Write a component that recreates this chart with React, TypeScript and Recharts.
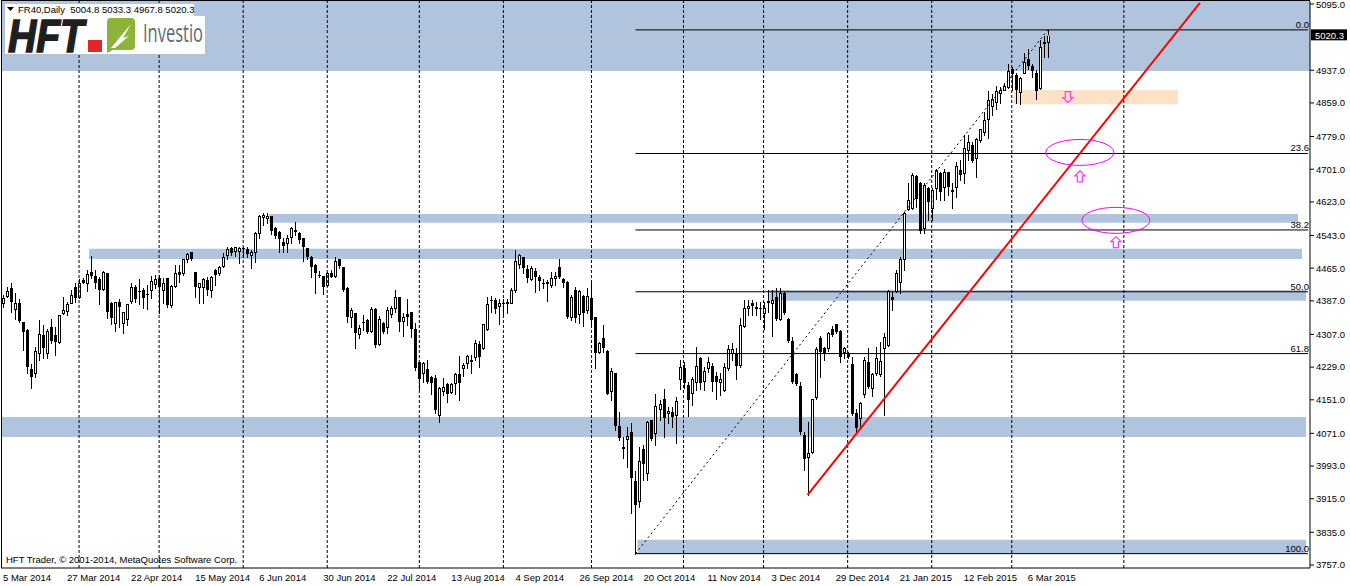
import React from 'react';
import { ComposedChart, Bar, XAxis, YAxis, ReferenceArea, ReferenceLine, ReferenceDot } from 'recharts';

// ---- OHLC values (FR40 daily) ----
const opens = [
  4381, 4399, 4417, 4367, 4381, 4336, 4317, 4224, 4214, 4262, 4306, 4262, 4324, 4306, 4288, 4359, 4363, 4383, 4419, 4397,
  4437, 4429, 4456, 4446, 4439, 4415, 4454, 4382, 4335, 4384, 4333, 4343, 4387, 4421, 4411, 4413, 4403, 4413, 4426, 4441,
  4414, 4441, 4377, 4422, 4457, 4453, 4486, 4503, 4457, 4421, 4421, 4437, 4414, 4461, 4454, 4471, 4496, 4512, 4507, 4507,
  4514, 4511, 4496, 4503, 4550, 4586, 4584, 4589, 4560, 4552, 4528, 4524, 4540, 4556, 4550, 4536, 4512, 4492, 4472, 4449,
  4446, 4425, 4454, 4446, 4486, 4468, 4417, 4349, 4357, 4307, 4337, 4341, 4316, 4367, 4283, 4333, 4324, 4355, 4371, 4397,
  4340, 4355, 4360, 4321, 4240, 4214, 4224, 4205, 4202, 4115, 4173, 4189, 4170, 4192, 4212, 4228, 4238, 4247, 4252, 4284,
  4275, 4319, 4389, 4389, 4375, 4383, 4381, 4383, 4413, 4474, 4491, 4463, 4438, 4458, 4443, 4430, 4429, 4426, 4441, 4467,
  4439, 4433, 4349, 4413, 4356, 4399, 4364, 4393, 4348, 4266, 4298, 4267, 4173, 4214, 4088, 4038, 4057, 4075, 3957, 3910,
  4033, 3977, 4103, 4071, 4128, 4152, 4119, 4123, 4115, 4200, 4226, 4186, 4168, 4194, 4250, 4197, 4226, 4232, 4208, 4193,
  4174, 4228, 4263, 4262, 4233, 4327, 4369, 4383, 4373, 4369, 4359, 4387, 4381, 4397, 4343, 4405, 4343, 4292, 4212, 4184,
  4067, 4015, 4027, 4158, 4298, 4274, 4274, 4321, 4332, 4316, 4266, 4260, 4236, 4119, 4107, 4166, 4240, 4178, 4216, 4212,
  4274, 4282, 4395, 4411, 4433, 4486, 4605, 4608, 4685, 4669, 4560, 4655, 4608, 4655, 4691, 4659, 4695, 4651, 4659, 4699,
  4691, 4747, 4759, 4727, 4771, 4790, 4820, 4852, 4862, 4882, 4891, 4898, 4941, 4926, 4886, 4930, 4964, 4947, 4930, 4894,
  5004, 5004.8,
];
const highs = [
  4401, 4419, 4430, 4405, 4391, 4336, 4319, 4236, 4278, 4341, 4329, 4321, 4344, 4325, 4353, 4395, 4385, 4413, 4429, 4438,
  4441, 4461, 4494, 4461, 4445, 4459, 4454, 4385, 4385, 4392, 4360, 4379, 4429, 4425, 4438, 4417, 4425, 4446, 4449, 4449,
  4441, 4441, 4425, 4472, 4472, 4488, 4502, 4504, 4457, 4430, 4441, 4445, 4446, 4462, 4470, 4500, 4516, 4516, 4516, 4516,
  4516, 4516, 4508, 4552, 4592, 4596, 4596, 4590, 4564, 4554, 4536, 4544, 4562, 4574, 4552, 4538, 4512, 4494, 4475, 4459,
  4446, 4457, 4461, 4492, 4488, 4468, 4419, 4369, 4359, 4329, 4353, 4343, 4372, 4369, 4351, 4337, 4373, 4375, 4414, 4397,
  4357, 4391, 4360, 4335, 4242, 4240, 4247, 4208, 4210, 4181, 4202, 4192, 4192, 4216, 4255, 4238, 4258, 4258, 4294, 4292,
  4332, 4397, 4399, 4393, 4391, 4391, 4391, 4417, 4508, 4499, 4492, 4472, 4470, 4465, 4449, 4438, 4437, 4457, 4457, 4486,
  4441, 4435, 4401, 4419, 4413, 4401, 4417, 4429, 4349, 4290, 4329, 4270, 4226, 4216, 4121, 4063, 4087, 4096, 3980, 4039,
  4043, 4101, 4104, 4165, 4150, 4176, 4133, 4135, 4158, 4246, 4242, 4194, 4206, 4278, 4254, 4230, 4252, 4238, 4218, 4214,
  4238, 4282, 4286, 4274, 4345, 4389, 4389, 4389, 4385, 4385, 4385, 4414, 4414, 4417, 4417, 4409, 4345, 4300, 4214, 4194,
  4075, 4099, 4154, 4276, 4303, 4278, 4313, 4327, 4332, 4317, 4278, 4266, 4254, 4128, 4146, 4252, 4274, 4214, 4278, 4290,
  4310, 4414, 4409, 4460, 4492, 4600, 4669, 4691, 4687, 4671, 4667, 4659, 4655, 4701, 4695, 4701, 4695, 4667, 4719, 4723,
  4782, 4782, 4767, 4775, 4798, 4838, 4888, 4880, 4899, 4898, 4906, 4953, 4945, 4930, 4922, 4977, 4987, 4952, 4938, 5009,
  5019, 5033.3,
];
const lows = [
  4373, 4395, 4361, 4343, 4337, 4270, 4214, 4180, 4206, 4246, 4250, 4250, 4287, 4258, 4286, 4356, 4353, 4382, 4385, 4393,
  4429, 4411, 4441, 4417, 4379, 4413, 4345, 4332, 4316, 4325, 4311, 4329, 4381, 4385, 4379, 4371, 4367, 4393, 4417, 4359,
  4381, 4373, 4373, 4419, 4433, 4449, 4480, 4484, 4397, 4381, 4381, 4401, 4397, 4425, 4449, 4468, 4488, 4496, 4494, 4478,
  4492, 4491, 4465, 4480, 4536, 4568, 4573, 4546, 4536, 4504, 4504, 4504, 4526, 4544, 4524, 4483, 4486, 4443, 4405, 4443,
  4403, 4422, 4443, 4445, 4465, 4411, 4337, 4325, 4274, 4298, 4317, 4311, 4313, 4278, 4282, 4311, 4311, 4349, 4361, 4316,
  4304, 4329, 4300, 4222, 4176, 4194, 4190, 4166, 4119, 4099, 4162, 4146, 4168, 4166, 4150, 4208, 4226, 4214, 4247, 4230,
  4271, 4317, 4361, 4359, 4332, 4353, 4359, 4381, 4409, 4465, 4453, 4433, 4437, 4409, 4414, 4417, 4387, 4419, 4425, 4441,
  4419, 4345, 4341, 4337, 4335, 4327, 4357, 4329, 4226, 4262, 4266, 4166, 4150, 4079, 4055, 4011, 3991, 3880, 3784, 3896,
  3960, 3960, 4055, 4043, 4103, 4063, 4095, 4087, 4047, 4176, 4178, 4113, 4139, 4174, 4176, 4174, 4218, 4173, 4152, 4162,
  4173, 4222, 4247, 4200, 4230, 4324, 4353, 4353, 4353, 4343, 4321, 4361, 4302, 4341, 4341, 4355, 4290, 4190, 4186, 4069,
  3984, 3924, 4023, 4154, 4206, 4246, 4268, 4303, 4311, 4242, 4250, 4250, 4115, 4073, 4083, 4158, 4178, 4160, 4210, 4208,
  4115, 4279, 4365, 4409, 4405, 4460, 4604, 4605, 4612, 4548, 4548, 4580, 4581, 4631, 4627, 4627, 4639, 4608, 4634, 4675,
  4667, 4723, 4719, 4682, 4767, 4782, 4775, 4830, 4844, 4860, 4890, 4894, 4890, 4858, 4856, 4930, 4939, 4920, 4868, 4892,
  4969, 4967.8,
];
const closes = [
  4393, 4410, 4385, 4383, 4340, 4313, 4230, 4206, 4267, 4307, 4274, 4315, 4292, 4290, 4353, 4365, 4379, 4401, 4393, 4430,
  4430, 4451, 4446, 4430, 4414, 4457, 4361, 4345, 4384, 4373, 4360, 4379, 4419, 4391, 4410, 4393, 4401, 4434, 4439, 4419,
  4430, 4377, 4422, 4453, 4449, 4486, 4499, 4488, 4421, 4429, 4438, 4414, 4443, 4449, 4468, 4491, 4510, 4502, 4515, 4514,
  4512, 4499, 4504, 4550, 4589, 4592, 4589, 4554, 4542, 4534, 4518, 4536, 4560, 4552, 4532, 4516, 4492, 4467, 4454, 4447,
  4419, 4454, 4445, 4482, 4470, 4413, 4349, 4365, 4311, 4323, 4335, 4313, 4368, 4282, 4344, 4312, 4365, 4371, 4397, 4337,
  4349, 4349, 4321, 4228, 4200, 4238, 4194, 4192, 4127, 4178, 4182, 4166, 4188, 4212, 4190, 4234, 4255, 4242, 4286, 4254,
  4331, 4379, 4386, 4367, 4383, 4379, 4385, 4414, 4482, 4496, 4465, 4441, 4465, 4443, 4435, 4427, 4433, 4441, 4446, 4445,
  4429, 4349, 4397, 4345, 4411, 4357, 4399, 4341, 4262, 4286, 4274, 4166, 4220, 4088, 4059, 4034, 4065, 3964, 3900, 4005,
  3999, 4097, 4057, 4136, 4142, 4107, 4125, 4109, 4149, 4230, 4190, 4150, 4200, 4232, 4192, 4220, 4240, 4193, 4193, 4200,
  4230, 4271, 4271, 4232, 4329, 4369, 4375, 4375, 4367, 4367, 4369, 4383, 4389, 4343, 4405, 4357, 4292, 4194, 4189, 4073,
  4009, 4023, 4152, 4272, 4266, 4262, 4311, 4305, 4313, 4252, 4274, 4252, 4117, 4083, 4144, 4246, 4182, 4212, 4250, 4243,
  4301, 4411, 4389, 4454, 4486, 4596, 4628, 4687, 4631, 4554, 4663, 4623, 4651, 4699, 4647, 4695, 4659, 4647, 4709, 4687,
  4751, 4767, 4721, 4772, 4796, 4818, 4866, 4868, 4887, 4890, 4899, 4936, 4928, 4890, 4918, 4957, 4947, 4936, 4888, 4993,
  5000, 5020.3,
];

// ---- axis labels / ticks ----
const dateLabels = [
  '5 Mar 2014', '27 Mar 2014', '22 Apr 2014', '15 May 2014', '6 Jun 2014', '30 Jun 2014', '22 Jul 2014',
  '13 Aug 2014', '4 Sep 2014', '26 Sep 2014', '20 Oct 2014', '11 Nov 2014', '3 Dec 2014', '29 Dec 2014',
  '21 Jan 2015', '12 Feb 2015', '6 Mar 2015',
];
const LABEL_STEP = 16; // a date label every 16 bars
const monthStartBars = [19, 39, 60, 81, 104, 125, 147, 170, 190, 211, 232, 252, 280];
const FUTURE_BARS = 65; // empty space right of the last bar
const priceTicks = [5095, 4937, 4859, 4779, 4701, 4623, 4543, 4465, 4387, 4307, 4229, 4151, 4071, 3993, 3915, 3835, 3757];
const priceDomain = [3749.8, 5102.2];

// ---- drawn objects (data space: bar index / price) ----
const supportBands = [
  { from: 4935, to: 5102.2, start: null as number | null, end: null as number | null },
  { from: 4573, to: 4594, start: 67, end: 323 },
  { from: 4487, to: 4511, start: 22, end: 324 },
  { from: 4387, to: 4413, start: 192, end: 325 },
  { from: 4062, to: 4110, start: 0, end: 325 },
  { from: 3783, to: 3817, start: 159, end: 325 },
];
const targetZone = { from: 4856, to: 4890, start: 253, end: 293 };
const fibLowBar = 158;
const fibHighBar = 261;
const fibRatios = [0, 23.6, 38.2, 50, 61.8, 100];
const trendLine = [{ bar: 201, price: 3924 }, { bar: 299, price: 5098 }];
const ellipses = [{ bar: 269, price: 4741 }, { bar: 278, price: 4579 }];
const upArrows = [{ bar: 269, price: 4684 }, { bar: 278, price: 4527 }];
const downArrows = [{ bar: 266, price: 4873 }];

const TOTAL = opens.length + FUTURE_BARS;
const data = Array.from({ length: TOTAL }, (_, i) =>
  i < opens.length
    ? { i, range: [lows[i], highs[i]], o: opens[i], h: highs[i], l: lows[i], c: closes[i] }
    : { i, range: null as any }
);
const LAST = TOTAL - 1;
const fibHigh = highs[fibHighBar];
const fibLow = lows[fibLowBar];
const fibLevels = fibRatios.map((r) => ({ r, price: fibHigh - (r / 100) * (fibHigh - fibLow) }));
const lastBar = opens.length - 1;

const FONT = "'Liberation Sans', Arial, sans-serif";
const BAND = '#B0C4DE';

function Candle(props: any) {
  const { x, y, width, height, payload } = props;
  if (!payload || payload.o == null || !isFinite(y) || !isFinite(height)) return null;
  const { o, h, l, c } = payload;
  const top = Math.min(y, y + height);
  const span = Math.abs(height);
  const k = h > l ? span / (h - l) : 0;
  const py = (v: number) => top + (h - v) * k;
  const col = Math.floor(x + width / 2);
  const yH = Math.round(py(h));
  const yL = Math.round(py(l));
  const bTop = Math.round(py(Math.max(o, c)));
  const bBot = Math.round(py(Math.min(o, c)));
  const bull = c >= o;
  return (
    <g shapeRendering="crispEdges">
      <line x1={col + 0.5} x2={col + 0.5} y1={yH} y2={yL + 1} stroke="#000" strokeWidth={1} />
      {bull ? (
        <rect x={col - 0.5} y={bTop + 0.5} width={2} height={Math.max(bBot - bTop, 1)} fill="#fff" stroke="#000" strokeWidth={1} />
      ) : (
        <rect x={col - 1} y={bTop} width={3} height={Math.max(bBot - bTop, 1)} fill="#000" />
      )}
    </g>
  );
}

function DateTick(props: any) {
  const { x, y, payload } = props;
  const i = payload?.value;
  if (typeof i !== 'number' || i % LABEL_STEP !== 0) return null;
  const label = dateLabels[i / LABEL_STEP];
  if (!label) return null;
  return (
    <text x={x} y={y + 12.5} textAnchor="start" fontSize={9.5} fontFamily={FONT} fill="#000">
      {label}
    </text>
  );
}

function PriceTick(props: any) {
  const { x, y, payload } = props;
  return (
    <text x={x} y={Math.max(y, 4.5) + 3.4} textAnchor="start" fontSize={9.5} fontFamily={FONT} fill="#000">
      {Number(payload.value).toFixed(1)}
    </text>
  );
}

const arrowPoints = (cx: number, cy: number, dir: number) =>
  [[0, -5.5], [5, -0.5], [2.5, -0.5], [2.5, 5.5], [-2.5, 5.5], [-2.5, -0.5], [-5, -0.5]]
    .map(([a, b]) => `${cx + a},${cy + b * dir}`)
    .join(' ');

export default function App() {
  return (
    <div style={{ position: 'absolute', left: 0, top: 0, width: 1350, height: 586, background: '#fff', overflow: 'hidden' }}>
      <ComposedChart
        width={1350}
        height={586}
        data={data}
        margin={{ top: 1, right: 0, bottom: 0, left: 1 }}
      >
        <XAxis
          dataKey="i"
          type="category"
          height={18}
          interval={LABEL_STEP - 1}
          tickLine={false}
          tickSize={0}
          tickMargin={0}
          axisLine={{ stroke: '#000' }}
          tick={<DateTick />}
        />
        <YAxis
          orientation="right"
          type="number"
          width={40}
          domain={priceDomain}
          allowDataOverflow
          ticks={priceTicks}
          interval={0}
          tickSize={4}
          tickMargin={2}
          axisLine={{ stroke: '#000' }}
          tickLine={{ stroke: '#000' }}
          tick={<PriceTick />}
        />

        {supportBands.map((b, k) => (
          <ReferenceArea
            key={'band' + k}
            y1={b.from}
            y2={b.to}
            {...(b.start != null ? { x1: b.start } : {})}
            {...(b.end != null ? { x2: b.end } : {})}
            fill={BAND}
            fillOpacity={1}
            stroke="none"
          />
        ))}
        <ReferenceArea
          x1={targetZone.start}
          x2={targetZone.end}
          y1={targetZone.from}
          y2={targetZone.to}
          fill="#FFE2C6"
          fillOpacity={1}
          stroke="none"
        />

        {monthStartBars.map((b) => (
          <ReferenceLine key={'g' + b} x={b} stroke="#000" strokeWidth={1} strokeDasharray="3 2" />
        ))}

        <ReferenceLine y={closes[lastBar]} stroke="#C0C0C0" strokeWidth={1} />

        <Bar dataKey="range" barSize={3} isAnimationActive={false} shape={<Candle />} />

        {fibLevels.map((f) => (
          <ReferenceLine
            key={'fib' + f.r}
            segment={[{ x: fibLowBar, y: f.price }, { x: LAST, y: f.price }]}
            stroke="#000"
            strokeWidth={1}
          />
        ))}
        {fibLevels.map((f) => (
          <ReferenceDot
            key={'fibl' + f.r}
            x={LAST}
            y={f.price}
            r={0}
            shape={(p: any) => (
              <text x={p.cx + 1} y={p.cy - 2} textAnchor="end" fontSize={9.5} fontFamily={FONT} fill="#000">
                {f.r.toFixed(1)}
              </text>
            )}
          />
        ))}
        <ReferenceLine
          segment={[{ x: fibLowBar, y: fibLow }, { x: fibHighBar, y: fibHigh }]}
          stroke="#000"
          strokeWidth={1}
          strokeDasharray="2 3"
        />
        <ReferenceLine
          segment={[{ x: trendLine[0].bar, y: trendLine[0].price }, { x: trendLine[1].bar, y: trendLine[1].price }]}
          stroke="#FF0000"
          strokeWidth={2}
        />
        {ellipses.map((e, k) => (
          <ReferenceDot
            key={'el' + k}
            x={e.bar}
            y={e.price}
            r={0}
            shape={(p: any) => (
              <ellipse cx={p.cx} cy={p.cy} rx={34} ry={13} fill="none" stroke="#FF00FF" strokeWidth={1} />
            )}
          />
        ))}
        {upArrows.map((a, k) => (
          <ReferenceDot
            key={'ua' + k}
            x={a.bar}
            y={a.price}
            r={0}
            shape={(p: any) => (
              <polygon points={arrowPoints(p.cx, p.cy, 1)} fill="none" stroke="#FF40FF" strokeWidth={1.3} />
            )}
          />
        ))}
        {downArrows.map((a, k) => (
          <ReferenceDot
            key={'da' + k}
            x={a.bar}
            y={a.price}
            r={0}
            shape={(p: any) => (
              <polygon points={arrowPoints(p.cx, p.cy, -1)} fill="none" stroke="#FF40FF" strokeWidth={1.3} />
            )}
          />
        ))}
        <ReferenceDot
          x={LAST}
          y={closes[lastBar]}
          r={0}
          shape={(p: any) => (
            <g>
              <rect x={p.cx + 3} y={p.cy - 6} width={36} height={11} fill="#000" />
              <text x={p.cx + 7} y={p.cy + 3.5} fontSize={9.5} fontFamily={FONT} fill="#fff">
                {closes[lastBar].toFixed(1)}
              </text>
            </g>
          )}
        />
      </ComposedChart>

      {/* chart frame (left and top edges) */}
      <div style={{ position: 'absolute', left: 1, top: 0, width: 1, height: 568, background: '#000' }} />
      <div style={{ position: 'absolute', left: 1, top: 0, width: 1309, height: 1, background: '#000' }} />

      {/* header */}
      <div style={{ position: 'absolute', left: 5, top: 4, width: 189, height: 12, background: '#fff' }} />
      <svg width={8} height={6} style={{ position: 'absolute', left: 7, top: 7 }}>
        <polygon points="0,0 7,0 3.5,4" fill="#000" />
      </svg>
      <div
        style={{
          position: 'absolute', left: 18, top: 4, height: 12,
          fontFamily: FONT, fontSize: 9.5, lineHeight: '12px', whiteSpace: 'pre', color: '#000',
        }}
      >
        {`FR40,Daily  ${opens[lastBar].toFixed(1)} ${highs[lastBar].toFixed(1)} ${lows[lastBar].toFixed(1)} ${closes[lastBar].toFixed(1)}`}
      </div>

      {/* logo */}
      <div style={{ position: 'absolute', left: 5, top: 16, width: 200, height: 38, background: '#fff' }} />
      <svg width={200} height={38} style={{ position: 'absolute', left: 5, top: 16, overflow: 'visible' }}>
        <text x={3} y={36} fontFamily={FONT} fontWeight={700} fontStyle="italic" fontSize={46}
          textLength={76} lengthAdjust="spacingAndGlyphs" fill="#1f1f1f" stroke="#1f1f1f" strokeWidth={1.6}>HFT</text>
        <rect x={83} y={24} width={14} height={12} fill="#E3262A" />
        <path d="M104 2 h22 a4 4 0 0 1 4 4 v24 a4 4 0 0 1 -4 4 h-18 l-6 3 v-31 a4 4 0 0 1 2 -4 z" fill="#8DB33B" />
        <path d="M106 32 L126 8 L118 22 L124 20 L110 32 z" fill="#fff" />
        <text x={138} y={26} fontFamily="'Open Sans', sans-serif" fontSize={25} textLength={60}
          lengthAdjust="spacingAndGlyphs" fill="#5E6B73">Investio</text>
      </svg>

      {/* footer */}
      <div
        style={{
          position: 'absolute', left: 6, top: 554, fontFamily: FONT, fontSize: 9.5, lineHeight: '12px',
          whiteSpace: 'pre', color: '#000',
        }}
      >
        HFT Trader, © 2001-2014, MetaQuotes Software Corp.
      </div>
    </div>
  );
}
